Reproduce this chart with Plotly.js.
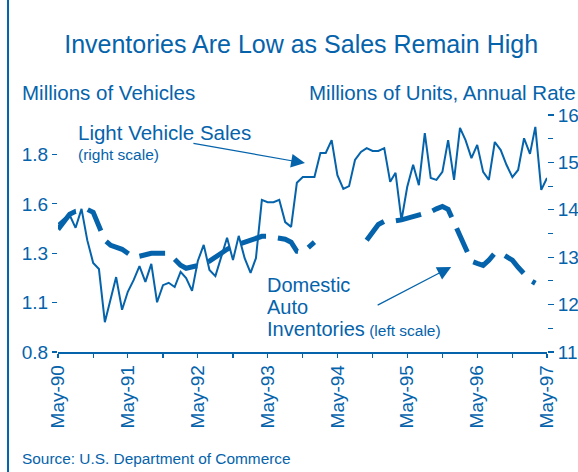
<!DOCTYPE html>
<html>
<head>
<meta charset="utf-8">
<script src="https://cdn.plot.ly/plotly-3.0.1.min.js"></script>
<style>html,body{margin:0;padding:0;background:#fff;}#chart{width:578px;height:472px;}</style>
</head>
<body>
<div id="chart"></div>
<script>
// ---- data ----
const startYear = 1990, startMonth = 5; // May 1990, monthly series

// Light vehicle sales, millions of units, annual rate (right scale)
const salesValues = [
  13.70,13.81,13.89,13.62,14.02,13.36,12.88,12.75,11.63,12.14,
  12.58,11.89,12.27,12.52,12.81,12.48,12.86,12.05,12.41,12.46,
  12.37,12.69,12.56,12.29,12.92,13.26,12.73,12.60,13.00,13.41,
  12.94,13.45,12.98,12.67,12.98,14.21,14.16,14.16,14.21,13.74,
  13.64,14.57,14.69,14.69,14.69,15.20,15.20,15.47,14.73,14.44,
  14.50,15.05,15.22,15.30,15.24,15.24,15.30,14.59,14.78,13.78,
  14.48,14.95,14.52,15.62,14.67,14.63,14.80,15.47,14.63,15.73,
  15.47,15.09,15.37,14.80,14.63,15.43,15.26,14.95,14.69,14.84,
  15.51,15.18,15.75,14.42,14.67
];

// Domestic auto inventories, millions of vehicles (left scale)
const inventoryValues = [
  1.421,1.457,1.497,1.512,1.517,1.522,1.507,1.431,1.366,1.340,
  1.330,1.320,1.300,1.280,1.285,1.295,1.300,1.300,1.300,1.300,
  1.270,1.239,1.224,1.229,1.239,1.244,1.260,1.280,1.305,1.320,
  1.335,1.345,1.356,1.366,1.381,1.386,1.386,1.381,1.381,1.371,
  1.356,1.310,1.305,1.330,1.356,null,null,null,null,null,
  null,null,null,1.366,1.406,1.446,1.462,1.462,1.464,1.469,
  1.477,1.482,1.492,1.502,1.510,1.525,1.537,1.522,1.457,1.391,
  1.325,1.260,1.249,1.239,1.265,1.300,1.300,1.285,1.265,1.229,
  1.194,1.164,1.148
];

// x tick labels (yearly, May)
const tickYears = [1990,1991,1992,1993,1994,1995,1996,1997];
const tickLabels = ['May-90','May-91','May-92','May-93','May-94','May-95','May-96','May-97'];

// left axis ticks
const leftTickVals = [0.8, 1.05, 1.3, 1.55, 1.8];
const leftTickText = ['0.8', '1.1', '1.3', '1.6', '1.8'];
const leftMinorVals = [0.8,0.925,1.05,1.175,1.3,1.425,1.55,1.675,1.8,1.925];

// ---- helpers ----
function monthDate(i) {
  const m0 = (startMonth - 1) + i;
  const y = startYear + Math.floor(m0 / 12);
  const m = (m0 % 12) + 1;
  return y + '-' + String(m).padStart(2, '0') + '-01';
}
const salesDates = salesValues.map((_, i) => monthDate(i));
const invDates = inventoryValues.map((_, i) => monthDate(i));

const halfTickVals = [], halfTickText = [];
tickYears.forEach((yr, k) => {
  halfTickVals.push(yr + '-05-01'); halfTickText.push(tickLabels[k]);
  if (k < tickYears.length - 1) { halfTickVals.push(yr + '-11-01'); halfTickText.push(''); }
});
const quarterTickVals = [];
for (let i = 0; i <= 84; i += 3) quarterTickVals.push(monthDate(i));

const BLUE = '#0563ab';
const FONT = 'Liberation Sans, Arial, Helvetica, sans-serif';
const xRange = ['1990-05-01', '1997-05-01'];

const traces = [
  {
    x: invDates, y: inventoryValues, type: 'scatter', mode: 'lines',
    xaxis: 'x', yaxis: 'y', connectgaps: false,
    line: {color: BLUE, width: 5, dash: '26px,12px'},
    hoverinfo: 'skip'
  },
  {
    x: salesDates, y: salesValues, type: 'scatter', mode: 'lines',
    xaxis: 'x', yaxis: 'y2',
    line: {color: BLUE, width: 2},
    hoverinfo: 'skip'
  }
];

const layout = {
  width: 578, height: 472,
  margin: {l: 58, r: 31, t: 115, b: 120, pad: 0},
  paper_bgcolor: '#ffffff', plot_bgcolor: '#ffffff',
  showlegend: false,
  font: {family: FONT, color: BLUE, size: 19},
  title: {
    text: 'Inventories Are Low as Sales Remain High',
    font: {family: FONT, size: 25, color: BLUE},
    x: 0.521, xanchor: 'center', y: 1 - 44 / 472, yanchor: 'middle'
  },
  xaxis: {
    type: 'date', range: xRange, tickmode: 'array',
    tickvals: halfTickVals, ticktext: halfTickText, tickangle: -90,
    ticks: 'outside', ticklen: 4, tickwidth: 1.2, tickcolor: BLUE,
    showline: true, linecolor: BLUE, linewidth: 1.5,
    showgrid: false, zeroline: false, tickfont: {size: 19, color: BLUE}
  },
  xaxis2: {
    type: 'date', range: xRange, overlaying: 'x', anchor: 'y', side: 'bottom',
    tickmode: 'array', tickvals: quarterTickVals,
    ticks: 'inside', ticklen: 5, tickwidth: 1.2, tickcolor: BLUE,
    showticklabels: false, showline: false, showgrid: false, zeroline: false
  },
  yaxis: {
    range: [0.8, 2.0], tickmode: 'array', tickvals: leftTickVals, ticktext: leftTickText,
    ticks: 'outside', ticklen: 5, tickwidth: 1.2, tickcolor: BLUE,
    showline: false, showgrid: false, zeroline: false, tickfont: {size: 19, color: BLUE}
  },
  yaxis3: {
    range: [0.8, 2.0], overlaying: 'y', anchor: 'x', side: 'left',
    tickmode: 'array', tickvals: leftMinorVals,
    ticks: 'inside', ticklen: 5, tickwidth: 1.2, tickcolor: BLUE,
    showticklabels: false, showline: false, showgrid: false, zeroline: false
  },
  yaxis2: {
    range: [11, 16], overlaying: 'y', anchor: 'x', side: 'right',
    tickmode: 'linear', tick0: 11, dtick: 1,
    ticks: 'outside', ticklen: 6, tickwidth: 1.2, tickcolor: BLUE,
    minor: {tickmode: 'linear', tick0: 11, dtick: 0.5, ticks: 'outside', ticklen: 5, tickwidth: 1.2, tickcolor: BLUE},
    showline: false, showgrid: false, zeroline: false, tickfont: {size: 19, color: BLUE}
  },
  shapes: [
    {type: 'line', xref: 'paper', yref: 'paper', x0: -0.1022, x1: -0.1022, y0: -0.52, y1: 1.5,
     line: {color: BLUE, width: 2}}
  ],
  annotations: [
    {text: 'Millions of Vehicles', xref: 'paper', yref: 'paper', x: -0.0777, y: 1.097,
     xanchor: 'left', yanchor: 'middle', showarrow: false, font: {size: 20.5, color: BLUE}},
    {text: 'Millions of Units, Annual Rate', xref: 'paper', yref: 'paper', x: 0.51, y: 1.097,
     xanchor: 'left', yanchor: 'middle', showarrow: false, font: {size: 20.5, color: BLUE}},
    {text: 'Light Vehicle Sales', xref: 'paper', yref: 'paper', x: 0.0368, y: 0.926,
     xanchor: 'left', yanchor: 'middle', showarrow: false, font: {size: 20.5, color: BLUE}},
    {text: '(right scale)', xref: 'paper', yref: 'paper', x: 0.0368, y: 0.835,
     xanchor: 'left', yanchor: 'middle', showarrow: false, font: {size: 15.5, color: BLUE}},
    {text: 'Domestic', xref: 'paper', yref: 'paper', x: 0.4233, y: 0.2827,
     xanchor: 'left', yanchor: 'middle', showarrow: false, font: {size: 20, color: BLUE}},
    {text: 'Auto', xref: 'paper', yref: 'paper', x: 0.4233, y: 0.1899,
     xanchor: 'left', yanchor: 'middle', showarrow: false, font: {size: 20, color: BLUE}},
    {text: 'Inventories<span style="font-size:15.5px"> (left scale)</span>', xref: 'paper', yref: 'paper', x: 0.4233, y: 0.097,
     xanchor: 'left', yanchor: 'middle', showarrow: false, font: {size: 20, color: BLUE}},
    {text: 'Source: U.S. Department of Commerce', xref: 'paper', yref: 'paper', x: -0.0777, y: -0.451,
     xanchor: 'left', yanchor: 'middle', showarrow: false, font: {size: 15.4, color: BLUE}},
    // arrows
    {text: '', xref: 'paper', yref: 'paper', x: 0.505, y: 0.797, ax: -113, ay: -20,
     showarrow: true, arrowhead: 2, arrowsize: 2.3, arrowwidth: 1.2, arrowcolor: BLUE, standoff: 0},
    {text: '', xref: 'paper', yref: 'paper', x: 0.804, y: 0.359, ax: -75, ay: 39,
     showarrow: true, arrowhead: 2, arrowsize: 2.3, arrowwidth: 1.2, arrowcolor: BLUE, standoff: 0}
  ]
};

Plotly.newPlot('chart', traces, layout, {staticPlot: true, displayModeBar: false});
</script>
</body>
</html>
